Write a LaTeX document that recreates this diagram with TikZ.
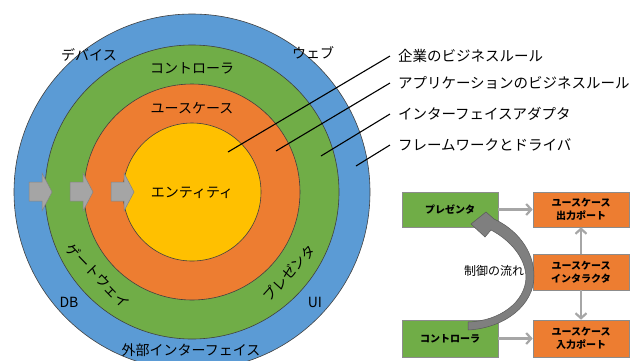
\documentclass[tikz,border=0pt]{standalone}
\usepackage{fontspec}
\newfontfamily\jp{Noto Sans CJK JP}
\usetikzlibrary{arrows.meta}
\definecolor{cblue}{HTML}{5B9BD5}
\definecolor{cgreen}{HTML}{70AD47}
\definecolor{corange}{HTML}{ED7D31}
\definecolor{cyellow}{HTML}{FFC000}
\definecolor{cgray}{HTML}{A5A5A5}
\definecolor{cgrayline}{HTML}{A6A6A6}
\definecolor{cdark}{HTML}{7F7F7F}
\definecolor{cdarkline}{HTML}{595959}
\begin{document}
\begin{tikzpicture}[x=1pt,y=-1pt,
  ring/.style={draw=black!75, line width=0.6pt},
  lbl/.style={font=\jp\fontsize{14}{16}\selectfont, inner sep=0pt},
  rlbl/.style={font=\jp\fontsize{14.5}{17}\selectfont, anchor=west, inner sep=2pt, outer sep=6pt},
  leader/.style={line width=1.1pt, black},
  box/.style={draw=black!45, line width=0.6pt, minimum width=96pt, inner sep=0pt, align=center, font=\jp\bfseries\fontsize{10}{13}\selectfont},
  gbox/.style={box, fill=cgreen},
  obox/.style={box, fill=corange},
  conn/.style={draw=cgrayline, line width=2.4pt, -{Straight Barb[length=5pt, width=11pt, line width=2.2pt]}},
  blk/.style={fill=cgray, draw=cgray!80!black, line width=0.5pt}]
\useasboundingbox (0,0) rectangle (638,360);
\clip (0,0) rectangle (638,360);
\fill[white] (0,0) rectangle (638,360);

% rings
\draw[ring, fill=cblue]   (192,192) circle[radius=178pt];
\draw[ring, fill=cgreen]  (192,192) circle[radius=147pt];
\draw[ring, fill=corange] (192,192) circle[radius=108pt];
\draw[ring, fill=cyellow] (192,192) circle[radius=69pt];

% block arrows
\foreach \ax in {29,70,111}{
  \filldraw[blk] (\ax,182) -- (\ax+13,182) -- (\ax+13,173) -- (\ax+23,192)
    -- (\ax+13,211) -- (\ax+13,201) -- (\ax,201) -- cycle;
}

% ring labels
\node[lbl] (dev) at (89,55) {デバイス};
\node[lbl] (web) at (313,53) {ウェブ};
\node[lbl] (ctl) at (192,68) {コントローラ};
\node[lbl] (uc)  at (192,108) {ユースケース};
\node[lbl] (ent) at (192,193) {エンティティ};
\node[lbl] (db)  at (69,302) {DB};
\node[lbl] (ui)  at (315,302) {UI};
\node[lbl] (ext) at (191,350) {外部インターフェイス};
\node[lbl, rotate=-46] (gw) at (98,276) {ゲートウェイ};
\node[lbl, rotate=48] (pr) at (289,273) {プレゼンタ};

% leader lines and labels
\coordinate (e1) at (228,152);
\coordinate (e2) at (276,151);
\coordinate (e3) at (321,156);
\coordinate (e4) at (356,166);
\node[rlbl] (l1) at (390,56) {企業のビジネスルール};
\node[rlbl] (l2) at (390,83) {アプリケーションのビジネスルール};
\node[rlbl] (l3) at (390,114) {インターフェイスアダプタ};
\node[rlbl] (l4) at (390,145) {フレームワークとドライバ};
\draw[leader] (e1) -- (l1.west);
\draw[leader] (e2) -- (l2.west);
\draw[leader] (e3) -- (l3.west);
\draw[leader] (e4) -- (l4.west);

% right diagram
\node[gbox, minimum height=35pt] (pres) at (450,209.5) {プレゼンタ};
\node[obox, minimum height=35pt] (outp) at (581,209.5) {ユースケース\\出力ポート};
\node[obox, minimum height=36pt] (inter) at (581,272) {ユースケース\\インタラクタ};
\node[obox, minimum height=37pt] (inp) at (581,338.5) {ユースケース\\入力ポート};
\node[gbox, minimum height=37pt] (ctrl) at (450,338.5) {コントローラ};

\draw[conn] (pres.east) -- (outp.west);
\draw[conn] (ctrl.east) -- (inp.west);
\draw[conn] (inter.north) -- (outp.south);
\draw[conn] (inter.south) -- (inp.north);

% curved flow arrow
\filldraw[fill=cdark, draw=cdarkline, line width=0.5pt]
  (468,330) .. controls (505,328) and (534,305) .. (534,276)
  .. controls (534,250) and (516,229) .. (494,219)
  -- (486,212) -- (471,224) -- (485,237) -- (491,230)
  .. controls (510,240) and (526,258) .. (526,278)
  .. controls (525,302) and (500,321) .. (468,322) -- cycle;
\node[font=\jp\fontsize{12}{14}\selectfont, inner sep=0pt] (flow) at (494,271) {制御の流れ};
\end{tikzpicture}
\end{document}
